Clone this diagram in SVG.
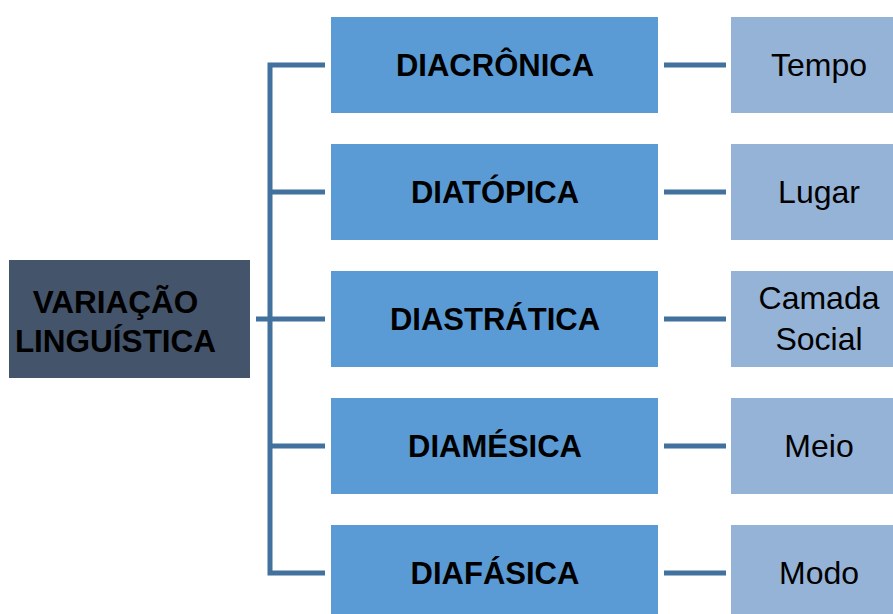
<svg xmlns="http://www.w3.org/2000/svg" width="893" height="614" viewBox="0 0 893 614">
<style>
.root{fill:#44546A}
.mid{fill:#5B9BD5}
.leaf{fill:#95B3D7}
.b{font-family:"Liberation Sans",Arial,sans-serif;font-weight:bold;font-size:31px;fill:#000;text-anchor:middle}
.r{font-family:"Liberation Sans",Arial,sans-serif;font-size:32px;fill:#000;text-anchor:middle}
.ln{stroke:#41719C;stroke-width:5;fill:none}
</style>
<rect width="893" height="614" fill="#fff"/>
<g id="connectors">
<path class="ln" d="M325 65H270V573H325"/>
<path class="ln" d="M270 192H325M256 319H325M270 446H325"/>
<path class="ln" d="M664 65H726M664 192H726M664 319H726M664 446H726M664 573H726"/>
</g>
<g id="root"><rect class="root" x="9" y="260" width="241" height="118"/>
<text class="b" x="115.5" y="313" style="font-size:31.5px">VARIAÇÃO</text><text class="b" x="115.5" y="352" style="font-size:31.5px">LINGUÍSTICA</text></g>
<g id="diacronica"><rect class="mid" x="331" y="17" width="327" height="96"/><text class="b" x="495" y="76">DIACRÔNICA</text></g>
<g id="diatopica"><rect class="mid" x="331" y="144" width="327" height="96"/><text class="b" x="495" y="203">DIATÓPICA</text></g>
<g id="diastratica"><rect class="mid" x="331" y="271" width="327" height="96"/><text class="b" x="495" y="330">DIASTRÁTICA</text></g>
<g id="diamesica"><rect class="mid" x="331" y="398" width="327" height="96"/><text class="b" x="495" y="457">DIAMÉSICA</text></g>
<g id="diafasica"><rect class="mid" x="331" y="525" width="327" height="96"/><text class="b" x="495" y="584">DIAFÁSICA</text></g>
<g id="tempo"><rect class="leaf" x="731" y="17" width="180" height="96"/><text class="r" x="819" y="76">Tempo</text></g>
<g id="lugar"><rect class="leaf" x="731" y="144" width="180" height="96"/><text class="r" x="819" y="203">Lugar</text></g>
<g id="camada"><rect class="leaf" x="731" y="271" width="180" height="96"/><text class="r" x="819" y="309">Camada</text><text class="r" x="819" y="350">Social</text></g>
<g id="meio"><rect class="leaf" x="731" y="398" width="180" height="96"/><text class="r" x="819" y="457">Meio</text></g>
<g id="modo"><rect class="leaf" x="731" y="525" width="180" height="96"/><text class="r" x="819" y="584">Modo</text></g>
</svg>
